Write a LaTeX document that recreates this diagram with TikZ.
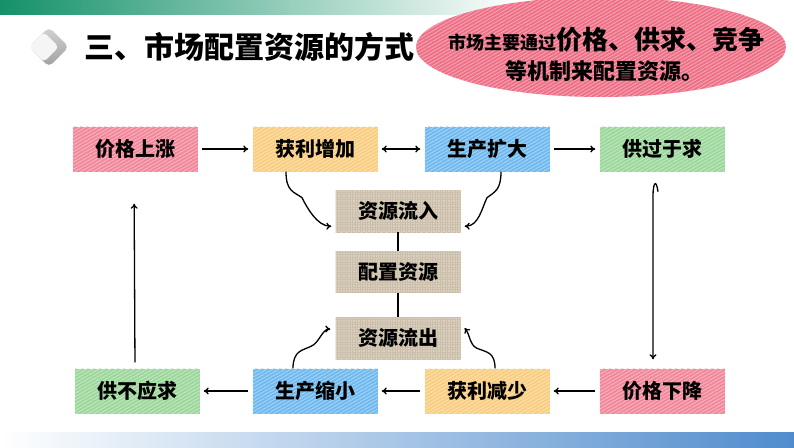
\documentclass[tikz,border=0pt]{standalone}
\usepackage{fontspec}
\setmainfont{Noto Sans CJK SC}[BoldFont={Noto Sans CJK SC Black}]
\usetikzlibrary{graphs}
\usetikzlibrary{arrows.meta}
\usetikzlibrary{patterns.meta}
\usetikzlibrary{shapes.geometric}

\definecolor{pinkbox}{RGB}{242,136,154}
\definecolor{yellowbox}{RGB}{250,206,128}
\definecolor{bluebox}{RGB}{112,186,240}
\definecolor{greenbox}{RGB}{156,216,156}
\definecolor{beigebox}{RGB}{220,208,188}
\definecolor{notered}{RGB}{238,112,134}
\definecolor{topgreen}{RGB}{20,145,105}
\definecolor{barblue}{RGB}{80,140,205}

\begin{document}
\begin{tikzpicture} [x=1pt, y=-1pt, >={To[length=5pt,width=7pt]},
            box/.style={minimum width=125pt, minimum height=45pt, inner sep=0pt,
                font=\bfseries\fontsize{20}{20}\selectfont},
            hatch/.style={fill=#1, postaction={pattern={Lines[angle=30,distance=3pt,line width=0.7pt]}, pattern color=white!45!#1}},
            sack/.style={fill=beigebox, minimum height=42pt, postaction={pattern={Hatch[distance=2.5pt,line width=0.25pt]}, pattern color=beigebox!92!black}},
            flow/.style={line width=1.3pt, shorten >=4pt, shorten <=4pt}]
            \useasboundingbox (0,0) rectangle (794,447);

            % bars
            \shade[left color=topgreen, right color=white] (0,0) rectangle (520,14);
            \shade[left color=white, right color=barblue] (0,432) rectangle (794,447);

            % title
            \node[diamond, minimum size=40pt, rounded corners=5pt, top color=gray!35, bottom color=gray!75] (icon) at (49,47) {};
            \node[diamond, minimum size=30pt, rounded corners=4pt, fill=white!92!gray] (iconhl) at (44,47) {};
            \node[anchor=west, inner sep=0pt, font=\bfseries\fontsize{30}{30}\selectfont] (title) at (84,47) {三、市场配置资源的方式};

            % note
            \node[ellipse, minimum width=370pt, minimum height=100pt, hatch=notered] (note) at (601,47) {};
            \node[font=\bfseries\fontsize{26}{26}\selectfont] (note1) at (606,40) {{\fontsize{18}{18}\selectfont 市场主要通过}价格、供求、竞争};
            \node[font=\bfseries\fontsize{22}{22}\selectfont] (note2) at (604,71) {等机制来配置资源。};

            % boxes
            \node[box, hatch=pinkbox]   (jgsz) at (135,149) {价格上涨};
            \node[box, hatch=yellowbox] (hlzj) at (315,149) {获利增加};
            \node[box, hatch=bluebox]   (sckd) at (487,149) {生产扩大};
            \node[box, hatch=greenbox]  (ggyq) at (662,149) {供过于求};
            \node[box, hatch=greenbox]  (gbyq) at (137,391) {供不应求};
            \node[box, hatch=bluebox]   (scsx) at (315,391) {生产缩小};
            \node[box, hatch=yellowbox] (hljs) at (487,391) {获利减少};
            \node[box, hatch=pinkbox]   (jgxj) at (662,391) {价格下降};
            \node[box, sack] (zylr) at (398,211) {资源流入};
            \node[box, sack] (pzzy) at (398,272) {配置资源};
            \node[box, sack] (zylc) at (398,338) {资源流出};

            \graph[edges={flow}] {
                (jgsz) -> (hlzj); (hlzj) <-> (sckd); (sckd) -> (ggyq);
                (jgxj) -> (hljs) -> (scsx) -> (gbyq)
            };
            \draw[line width=1.3pt] (zylr) -- (pzzy) -- (zylc);

            % loop sides
            \draw[flow, ->, shorten >=32pt, shorten <=6pt] ([xshift=-2pt]gbyq.north) -- ([xshift=-1pt]jgsz.south);
            \draw[flow, ->, shorten <=0pt, shorten >=9pt] ([xshift=-4pt,yshift=-20pt]ggyq.south) .. controls +(-2,-14) and +(0,-12) .. ([xshift=-9pt,yshift=-24pt]ggyq.south) -- ([xshift=-9pt]jgxj.north);

            % wavy arrows
            \draw[flow, ->, shorten <=0pt, shorten >=0pt] ([xshift=-29pt]hlzj.south) .. controls +(0,20) and +(-8,-6) .. ++(16,26) .. controls +(5,10) and +(-14,0) .. ([xshift=-4pt,yshift=6pt]zylr.south west);
            \draw[flow, ->, shorten <=0pt, shorten >=0pt] ([xshift=14pt]sckd.south) .. controls +(0,18) and +(8,-6) .. ++(-14,26) .. controls +(-5,10) and +(14,0) .. ([xshift=4pt,yshift=6pt]zylr.south east);
            \draw[flow, ->, shorten <=0pt, shorten >=0pt] ([xshift=-22pt]scsx.north) .. controls +(0,-18) and +(-8,4) .. ++(18,-22) .. controls +(8,-3) and +(-8,0) .. ([xshift=-5pt,yshift=9pt]zylc.west);
            \draw[flow, ->, shorten <=0pt, shorten >=0pt] ([xshift=8pt]hljs.north) .. controls +(0,-16) and +(10,4) .. ++(-18,-20) .. controls +(-8,-4) and +(6,8) .. ([xshift=4pt,yshift=10pt]zylc.east);
        \end{tikzpicture}
\end{document}
